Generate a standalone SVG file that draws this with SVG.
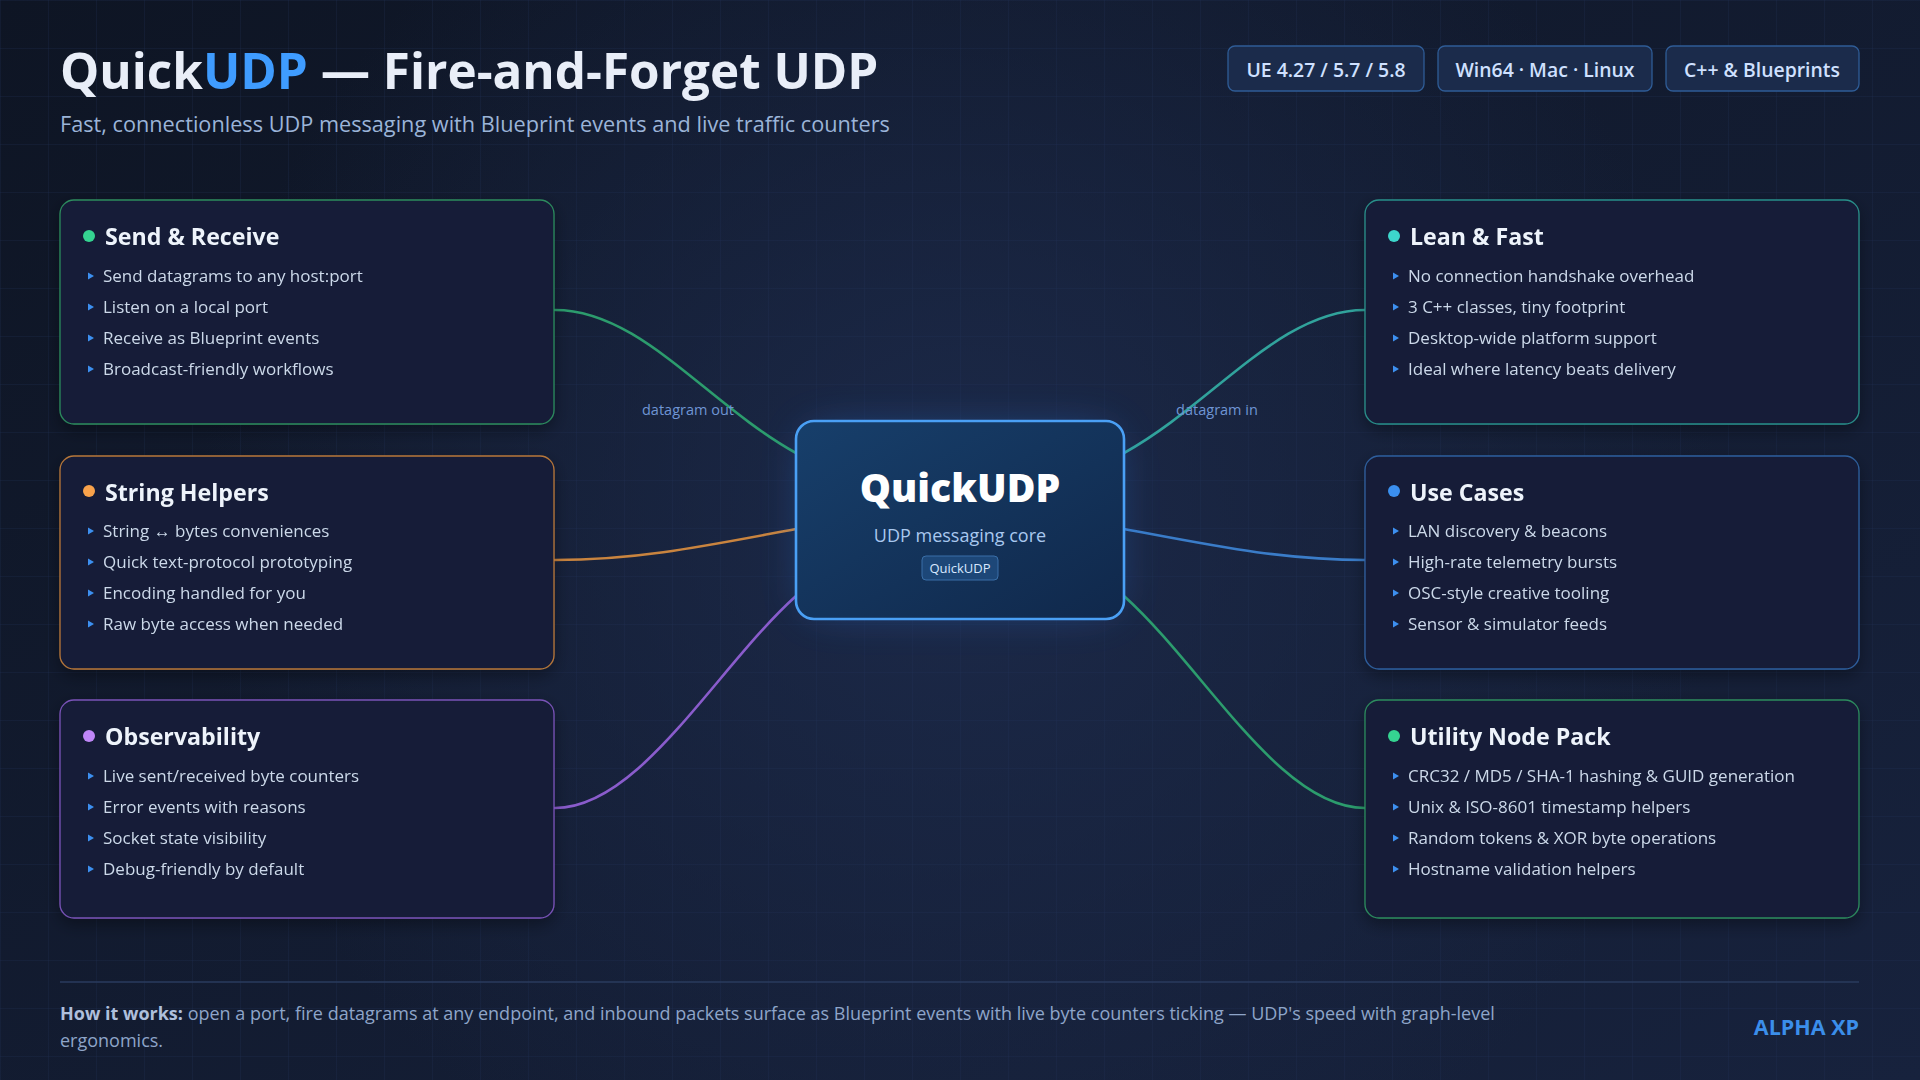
<svg xmlns="http://www.w3.org/2000/svg" width="1920" height="1080" viewBox="0 0 1920 1080">
<defs>
  <linearGradient id="bg" x1="0" y1="0" x2="1" y2="1">
    <stop offset="0" stop-color="#0e1524"/>
    <stop offset="1" stop-color="#17223d"/>
  </linearGradient>
  <radialGradient id="bgGlow" cx="960" cy="520" r="760" gradientUnits="userSpaceOnUse">
    <stop offset="0" stop-color="#1d2b4c" stop-opacity="0.9"/>
    <stop offset="1" stop-color="#1d2b4c" stop-opacity="0"/>
  </radialGradient>
  <pattern id="grid" width="48" height="48" patternUnits="userSpaceOnUse">
    <path d="M48 0 L0 0 0 48" fill="none" stroke="#22345a" stroke-opacity="0.45" stroke-width="1"/>
  </pattern>
  <linearGradient id="coreFill" x1="0" y1="0" x2="1" y2="1">
    <stop offset="0" stop-color="#173f6b"/>
    <stop offset="1" stop-color="#10284b"/>
  </linearGradient>
  <filter id="glow" x="-50%" y="-50%" width="200%" height="200%">
    <feGaussianBlur stdDeviation="22"/>
  </filter>
  <filter id="shadow" x="-10%" y="-10%" width="120%" height="130%">
    <feDropShadow dx="0" dy="6" stdDeviation="8" flood-color="#000" flood-opacity="0.35"/>
  </filter>
  <polygon id="tri" points="0,-3.5 6,0 0,3.5" fill="#3d8ff0"/>
  <style>
    .t { font-family: "Open Sans", "Noto Sans", sans-serif; }
    .card { fill: #141e37; stroke-width: 1.3; }
    .ctitle { font-family: "Open Sans", "Noto Sans", sans-serif; font-size: 23.2px; font-weight: 700; fill: #eef3fb; }
    .item { font-family: "Open Sans", "Noto Sans", sans-serif; font-size: 17px; fill: #cdd8ea; }
    .badge rect { fill: #1b2b4b; stroke: #2f5c96; stroke-width: 1.3; }
    .badge text { font-family: "Open Sans", "Noto Sans", sans-serif; font-size: 19.4px; font-weight: 600; fill: #cfe0ff; text-anchor: middle; }
    .conn { fill: none; stroke-width: 2.6; stroke-linecap: round; }
    .clabel { font-family: "Open Sans", "Noto Sans", sans-serif; font-size: 14.5px; fill: #6f95d4; text-anchor: middle; }
  </style>
</defs>

<rect width="1920" height="1080" fill="url(#bg)"/>
<rect width="1920" height="1080" fill="url(#bgGlow)"/>
<rect width="1920" height="1080" fill="url(#grid)"/>

<!-- Header -->
<g id="header">
  <text class="t" x="60" y="89" font-size="49.4" font-weight="700" fill="#e9eef8">Quick<tspan fill="#3f9cff">UDP</tspan> — Fire-and-Forget UDP</text>
  <text class="t" x="60" y="132" font-size="21.7" fill="#9bb4d8">Fast, connectionless UDP messaging with Blueprint events and live traffic counters</text>
</g>

<g id="badges" class="badge">
  <g id="badge-ue"><rect x="1228" y="46" width="196" height="45" rx="7"/><text x="1326" y="76.5">UE 4.27 / 5.7 / 5.8</text></g>
  <g id="badge-platform"><rect x="1438" y="46" width="214" height="45" rx="7"/><text x="1545" y="76.5">Win64 · Mac · Linux</text></g>
  <g id="badge-lang"><rect x="1666" y="46" width="193" height="45" rx="7"/><text x="1762" y="76.5">C++ &amp; Blueprints</text></g>
</g>

<!-- Connectors -->
<g id="connectors">
  <path class="conn" d="M555,310 C640,310 706,403 796,453" stroke="#2c9c6d"/>
  <path class="conn" d="M555,560 C640,560 710,545 796,529" stroke="#c9843f"/>
  <path class="conn" d="M555,808 C640,808 716,668 796,596" stroke="#8a5ccc"/>
  <path class="conn" d="M1124,453 C1214,403 1280,310 1365,310" stroke="#31a39c"/>
  <path class="conn" d="M1124,529 C1210,545 1280,560 1365,560" stroke="#3a7cc8"/>
  <path class="conn" d="M1124,596 C1204,668 1280,808 1365,808" stroke="#2c9c6d"/>
  <text class="clabel" x="688" y="415">datagram out</text>
  <text class="clabel" x="1217" y="415">datagram in</text>
</g>

<!-- Center node -->
<g id="core">
  <rect x="806" y="431" width="308" height="178" rx="18" fill="#2c6fd0" opacity="0.45" filter="url(#glow)"/>
  <rect x="796" y="421" width="328" height="198" rx="18" fill="url(#coreFill)" stroke="#4aa0f5" stroke-width="2.6"/>
  <text class="t" x="960" y="502" font-size="39.2" font-weight="800" fill="#ffffff" text-anchor="middle">QuickUDP</text>
  <text class="t" x="960" y="542" font-size="18" fill="#a9c8ef" text-anchor="middle">UDP messaging core</text>
  <rect x="922" y="556" width="76" height="24" rx="4" fill="#1d4778" stroke="#3a6fa8" stroke-width="1"/>
  <text class="t" x="960" y="573" font-size="13" fill="#d8e7ff" text-anchor="middle">QuickUDP</text>
</g>

<!-- Left cards -->
<g id="send-receive" filter="url(#shadow)">
  <rect class="card" x="60" y="200" width="494" height="224" rx="14" stroke="#2d8b5e"/>
  <circle cx="89" cy="236" r="6" fill="#34d391"/>
  <text class="ctitle" x="105" y="245">Send &amp; Receive</text>
  <use href="#tri" x="88" y="276"/><text class="item" x="103" y="282">Send datagrams to any host:port</text>
  <use href="#tri" x="88" y="307"/><text class="item" x="103" y="313">Listen on a local port</text>
  <use href="#tri" x="88" y="338"/><text class="item" x="103" y="344">Receive as Blueprint events</text>
  <use href="#tri" x="88" y="369"/><text class="item" x="103" y="375">Broadcast-friendly workflows</text>
</g>

<g id="string-helpers" filter="url(#shadow)">
  <rect class="card" x="60" y="456" width="494" height="213" rx="14" stroke="#b8773a"/>
  <circle cx="89" cy="491" r="6" fill="#f9a24b"/>
  <text class="ctitle" x="105" y="501">String Helpers</text>
  <use href="#tri" x="88" y="531"/><text class="item" x="103" y="537">String ↔ bytes conveniences</text>
  <use href="#tri" x="88" y="562"/><text class="item" x="103" y="568">Quick text-protocol prototyping</text>
  <use href="#tri" x="88" y="593"/><text class="item" x="103" y="599">Encoding handled for you</text>
  <use href="#tri" x="88" y="624"/><text class="item" x="103" y="630">Raw byte access when needed</text>
</g>

<g id="observability" filter="url(#shadow)">
  <rect class="card" x="60" y="700" width="494" height="218" rx="14" stroke="#7a52b8"/>
  <circle cx="89" cy="736" r="6" fill="#bf86f8"/>
  <text class="ctitle" x="105" y="745">Observability</text>
  <use href="#tri" x="88" y="776"/><text class="item" x="103" y="782">Live sent/received byte counters</text>
  <use href="#tri" x="88" y="807"/><text class="item" x="103" y="813">Error events with reasons</text>
  <use href="#tri" x="88" y="838"/><text class="item" x="103" y="844">Socket state visibility</text>
  <use href="#tri" x="88" y="869"/><text class="item" x="103" y="875">Debug-friendly by default</text>
</g>

<!-- Right cards -->
<g id="lean-fast" filter="url(#shadow)">
  <rect class="card" x="1365" y="200" width="494" height="224" rx="14" stroke="#2a8f8a"/>
  <circle cx="1394" cy="236" r="6" fill="#3dd6cc"/>
  <text class="ctitle" x="1410" y="245">Lean &amp; Fast</text>
  <use href="#tri" x="1393" y="276"/><text class="item" x="1408" y="282">No connection handshake overhead</text>
  <use href="#tri" x="1393" y="307"/><text class="item" x="1408" y="313">3 C++ classes, tiny footprint</text>
  <use href="#tri" x="1393" y="338"/><text class="item" x="1408" y="344">Desktop-wide platform support</text>
  <use href="#tri" x="1393" y="369"/><text class="item" x="1408" y="375">Ideal where latency beats delivery</text>
</g>

<g id="use-cases" filter="url(#shadow)">
  <rect class="card" x="1365" y="456" width="494" height="213" rx="14" stroke="#2f5f9e"/>
  <circle cx="1394" cy="491" r="6" fill="#3b8fef"/>
  <text class="ctitle" x="1410" y="501">Use Cases</text>
  <use href="#tri" x="1393" y="531"/><text class="item" x="1408" y="537">LAN discovery &amp; beacons</text>
  <use href="#tri" x="1393" y="562"/><text class="item" x="1408" y="568">High-rate telemetry bursts</text>
  <use href="#tri" x="1393" y="593"/><text class="item" x="1408" y="599">OSC-style creative tooling</text>
  <use href="#tri" x="1393" y="624"/><text class="item" x="1408" y="630">Sensor &amp; simulator feeds</text>
</g>

<g id="utility-node-pack" filter="url(#shadow)">
  <rect class="card" x="1365" y="700" width="494" height="218" rx="14" stroke="#2d8b5e"/>
  <circle cx="1394" cy="736" r="6" fill="#34d391"/>
  <text class="ctitle" x="1410" y="745">Utility Node Pack</text>
  <use href="#tri" x="1393" y="776"/><text class="item" x="1408" y="782">CRC32 / MD5 / SHA-1 hashing &amp; GUID generation</text>
  <use href="#tri" x="1393" y="807"/><text class="item" x="1408" y="813">Unix &amp; ISO-8601 timestamp helpers</text>
  <use href="#tri" x="1393" y="838"/><text class="item" x="1408" y="844">Random tokens &amp; XOR byte operations</text>
  <use href="#tri" x="1393" y="869"/><text class="item" x="1408" y="875">Hostname validation helpers</text>
</g>

<!-- Footer -->
<g id="footer">
  <line x1="60" y1="982" x2="1859" y2="982" stroke="#2a3b5e" stroke-width="1.3"/>
  <text class="t" x="60" y="1020" font-size="18" fill="#8ea5c9"><tspan font-weight="700" fill="#aebfdc">How it works:</tspan> open a port, fire datagrams at any endpoint, and inbound packets surface as Blueprint events with live byte counters ticking — UDP's speed with graph-level</text>
  <text class="t" x="60" y="1047" font-size="18" fill="#8ea5c9">ergonomics.</text>
  <text class="t" x="1859" y="1035" font-size="21.5" font-weight="700" fill="#3b8eea" text-anchor="end">ALPHA XP</text>
</g>
</svg>
